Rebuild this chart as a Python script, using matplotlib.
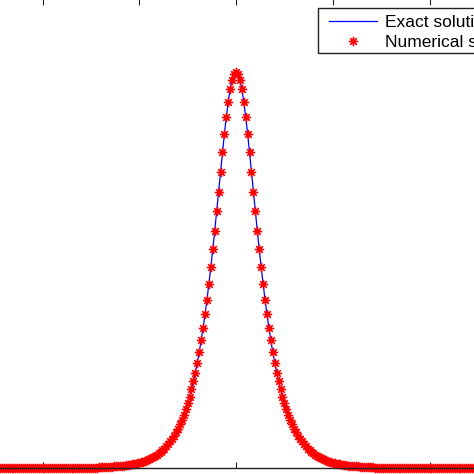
import numpy as np
import matplotlib
matplotlib.use('Agg')
from matplotlib import pyplot as plt
from matplotlib.path import Path
from matplotlib.patches import Rectangle

# soliton profile, x from -12.5 to 12.5 in steps of 0.1
u_profile = [
    0.000, 0.000, 0.000, 0.000, 0.000, 0.000, 0.000, 0.000, 0.000, 0.000,
    0.000, 0.000, 0.000, 0.000, 0.000, 0.000, 0.000, 0.000, 0.000, 0.000,
    0.000, 0.000, 0.000, 0.000, 0.000, 0.000, 0.000, 0.000, 0.000, 0.000,
    0.000, 0.000, 0.000, 0.000, 0.000, 0.000, 0.000, 0.000, 0.000, 0.000,
    0.000, 0.000, 0.000, 0.000,
    0.001, 0.001, 0.001, 0.001, 0.001, 0.001, 0.001, 0.001, 0.001, 0.001,
    0.002, 0.002, 0.002, 0.002, 0.002, 0.003, 0.003, 0.003, 0.004, 0.004,
    0.004, 0.005, 0.005, 0.006, 0.007, 0.007, 0.008, 0.009, 0.010, 0.011,
    0.012, 0.013, 0.015, 0.016, 0.018, 0.020, 0.022, 0.025, 0.027, 0.030,
    0.033, 0.037, 0.040, 0.045, 0.049, 0.055, 0.060, 0.067, 0.074, 0.081,
    0.090, 0.099, 0.110, 0.121, 0.134, 0.148, 0.163, 0.180, 0.199, 0.219,
    0.241, 0.266, 0.293, 0.322, 0.354, 0.388, 0.425, 0.465, 0.507, 0.552,
    0.599, 0.648, 0.698, 0.748, 0.797, 0.844, 0.887, 0.925, 0.957, 0.980,
    0.995,
    1.000,
    0.995, 0.980, 0.957, 0.925, 0.887, 0.844, 0.797, 0.748, 0.698, 0.648,
    0.599, 0.552, 0.507, 0.465, 0.425, 0.388, 0.354, 0.322, 0.293, 0.266,
    0.241, 0.219, 0.199, 0.180, 0.163, 0.148, 0.134, 0.121, 0.110, 0.099,
    0.090, 0.081, 0.074, 0.067, 0.060, 0.055, 0.049, 0.045, 0.040, 0.037,
    0.033, 0.030, 0.027, 0.025, 0.022, 0.020, 0.018, 0.016, 0.015, 0.013,
    0.012, 0.011, 0.010, 0.009, 0.008, 0.007, 0.007, 0.006, 0.005, 0.005,
    0.004, 0.004, 0.004, 0.003, 0.003, 0.003, 0.002, 0.002, 0.002, 0.002,
    0.002, 0.001, 0.001, 0.001, 0.001, 0.001, 0.001, 0.001, 0.001, 0.001,
    0.001,
    0.000, 0.000, 0.000, 0.000, 0.000, 0.000, 0.000, 0.000, 0.000, 0.000,
    0.000, 0.000, 0.000, 0.000, 0.000, 0.000, 0.000, 0.000, 0.000, 0.000,
    0.000, 0.000, 0.000, 0.000, 0.000, 0.000, 0.000, 0.000, 0.000, 0.000,
    0.000, 0.000, 0.000, 0.000, 0.000, 0.000, 0.000, 0.000, 0.000, 0.000,
    0.000, 0.000, 0.000, 0.000,
]
x_start, x_end = -12.5, 12.5
x_ticks = [-15, -10, -5, 0, 5, 10, 15]
labels = ['Exact solution', 'Numerical solution']

u = np.array(u_profile)
x = np.linspace(x_start, x_end, len(u))

# matlab style asterisk
star = Path([(-1, 0), (1, 0), (0, -1), (0, 1), (-0.7, -0.7), (0.7, 0.7), (-0.7, 0.7), (0.7, -0.7)],
            [Path.MOVETO, Path.LINETO] * 4)

plt.rcParams['font.family'] = ['Liberation Sans', 'DejaVu Sans']

W = 474.0
fig = plt.figure(figsize=(4.74, 4.74), dpi=100)
# the reference is a crop, so the axes run past the figure edges
ax = fig.add_axes([-54.25 / W, 6 / W, 580.5 / W, 469.3 / W])
ax.plot(x, u, '-', color='b', lw=0.9, label=labels[0])
ax.plot(x, u, ls='none', marker=star, ms=6.8, mec='r', mfc='none', mew=1.2,
        clip_on=False, label=labels[1])
ax.set_xlim(-15, 15)
ax.set_ylim(0, 1.185)
ax.set_xticks(x_ticks)
ax.set_yticks([])
ax.tick_params(axis='x', direction='in', top=True, length=4.5, width=0.8,
               color='#222222', labelbottom=False)
for s in ax.spines.values():
    s.set_linewidth(1.0)
    s.set_color('#222222')

# legend box drawn by hand so the padding matches the matlab one
box = Rectangle((318 / W, 1 - 53 / W), 170 / W, 45 / W, transform=fig.transFigure,
                facecolor='white', edgecolor='#222222', lw=1.0, zorder=4, clip_on=False)
ax.add_patch(box)
leg = ax.legend(loc='upper left', bbox_to_anchor=(329 / W, 1 - 14.5 / W),
                bbox_transform=fig.transFigure, borderaxespad=0, borderpad=0,
                fontsize=12.5, numpoints=1, frameon=False,
                handlelength=2.76, handletextpad=0.46, labelspacing=0.3)
leg.set_zorder(6)

plt.savefig('out.png', dpi=100)
